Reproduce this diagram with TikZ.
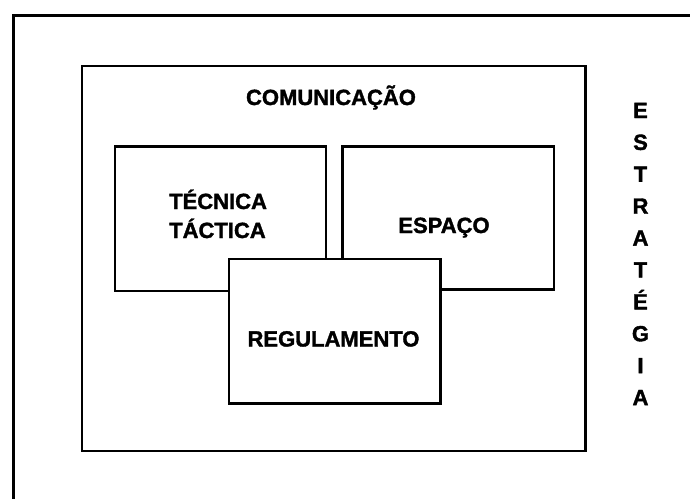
\documentclass[tikz,border=0pt]{standalone}
\usepackage{fontspec}
\setmainfont[BoldFeatures={FakeBold=1.6}]{Liberation Sans}
\begin{document}
\begin{tikzpicture}[x=1pt,y=-1pt,
  frame/.style={draw=black,line width=3pt},
  boxnode/.style={draw=black,line width=2.8pt,fill=white,rectangle,inner sep=0pt,anchor=north west},
  lbl/.style={font=\fontsize{22}{28}\selectfont\bfseries,inner sep=0pt,anchor=base}
]
\useasboundingbox (0,0) rectangle (690,498);
\begin{scope}
\clip (0,0) rectangle (690,498);
\draw[frame] (13.5,15) rectangle (710,520);
\end{scope}
% COMUNICAÇÃO area
\node[boxnode,minimum width=503.5pt,minimum height=385pt] (comm) at (80.5,64.5) {};
\node[lbl] (commtxt) at (331,105) {COMUNICAÇÃO};
% TÉCNICA TÁCTICA
\node[boxnode,minimum width=211pt,minimum height=144.5pt] (tec) at (113.5,145) {};
\node[lbl,anchor=base west] (tectxt1) at (169,209) {TÉCNICA};
\node[lbl,anchor=base west] (tectxt2) at (169,238) {TÁCTICA};
% ESPAÇO
\node[boxnode,minimum width=211.5pt,minimum height=143pt] (esp) at (341,145) {};
\node[lbl] (esptxt) at (444,233) {ESPAÇO};
% REGULAMENTO
\node[boxnode,minimum width=211.5pt,minimum height=144.5pt] (reg) at (227.5,257.5) {};
\node[lbl] (regtxt) at (333.5,346.5) {REGULAMENTO};
% ESTRATÉGIA
\foreach \ch [count=\i from 0] in {E,S,T,R,A,T,É,G,I,A}{
  \node[lbl] (est\i) at (640.5,118+31.9*\i) {\ch};
}
\end{tikzpicture}
\end{document}
